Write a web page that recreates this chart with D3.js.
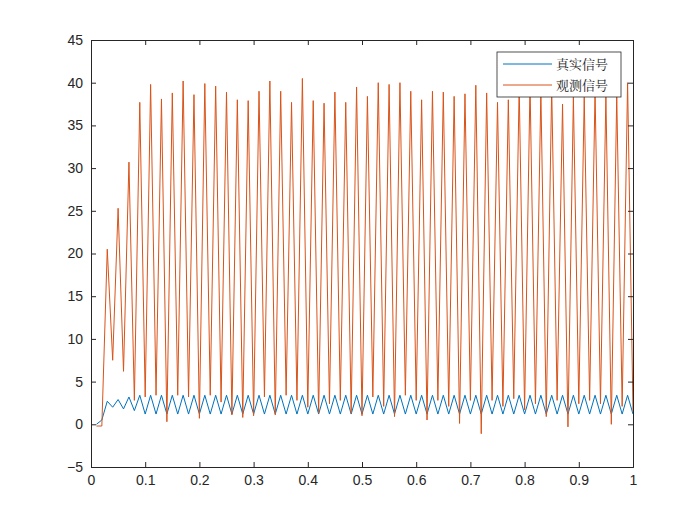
<!DOCTYPE html>
<html><head><meta charset="utf-8">
<script src="https://cdn.jsdelivr.net/npm/d3@7"></script>
<style>body{margin:0;background:#fff}</style></head>
<body><svg id="c" width="700" height="525"></svg>
<script>
const tStart = 0.01, tStep = 0.01;
const observed = [-0.2,-0.2,20.5,7.5,25.3,6.2,30.7,2.8,37.7,3.2,
 39.8,3.4,38.1,0.3,38.8,3.4,40.2,3.2,38.6,0.7,
 39.9,3.4,39.6,2.6,38.9,1.1,38.0,0.8,37.9,1.0,
 39.0,3.2,40.2,1.1,39.0,3.4,37.7,2.8,40.5,2.0,
 37.9,1.3,37.6,2.4,38.9,2.8,37.7,1.3,39.5,1.0,
 38.4,3.2,40.0,2.1,39.8,0.9,40.0,3.4,39.0,2.8,
 38.0,0.5,39.0,2.8,38.9,2.1,38.4,0.1,38.7,2.8,
 39.7,-1.1,38.8,2.8,37.7,2.1,38.0,3.0,39.5,1.7,
 39.8,2.4,39.0,0.9,39.5,2.8,37.5,-0.3,38.3,2.4,
 38.3,2.8,39.0,2.4,38.5,0.0,38.5,2.1,40.0,1.5];
const truth = [0,0.5,2.7,2.0,2.9,1.8,3.2,1.6,3.4,1.2,
 3.4,1.2,3.4,1.2,3.4,1.2,3.4,1.2,3.4,1.2,
 3.4,1.2,3.4,1.2,3.4,1.2,3.4,1.2,3.4,1.2,
 3.4,1.2,3.4,1.2,3.4,1.2,3.4,1.2,3.4,1.2,
 3.4,1.2,3.4,1.2,3.4,1.2,3.4,1.2,3.4,1.2,
 3.4,1.2,3.4,1.2,3.4,1.2,3.4,1.2,3.4,1.2,
 3.4,1.2,3.4,1.2,3.4,1.2,3.4,1.2,3.4,1.2,
 3.4,1.2,3.4,1.2,3.4,1.2,3.4,1.2,3.4,1.2,
 3.4,1.2,3.4,1.2,3.4,1.2,3.4,1.2,3.4,1.2,
 3.4,1.2,3.4,1.2,3.4,1.2,3.4,1.2,3.4,1.2];
const xTicks = [0,0.1,0.2,0.3,0.4,0.5,0.6,0.7,0.8,0.9,1];
const yTicks = [-5,0,5,10,15,20,25,30,35,40,45];
const seriesNames = ["真实信号","观测信号"];
const colors = ["#0072BD","#D95319"];

const L=91,R=633,T=40,B=467;
const svg=d3.select("#c");
const x=d3.scaleLinear().domain([0,1]).range([L,R]);
const y=d3.scaleLinear().domain([-5,45]).range([B,T]);
const font="'Liberation Sans',Arial,sans-serif";
svg.append("rect").attr("x",L).attr("y",T).attr("width",R-L).attr("height",B-T).attr("fill","#fff");
const line=d3.line().x((d,i)=>x(tStart+i*tStep)).y(d=>y(d));
svg.append("path").datum(truth).attr("d",line).attr("fill","none").attr("stroke",colors[0]).attr("stroke-width",1);
svg.append("path").datum(observed).attr("d",line).attr("fill","none").attr("stroke",colors[1]).attr("stroke-width",1);
const ax=g=>g.selectAll("path").attr("stroke","#262626");
const gxB=svg.append("g").attr("transform",`translate(0,${B})`).call(d3.axisBottom(x).tickValues(xTicks).tickSize(-5).tickPadding(8).tickFormat(d3.format("")));
const gxT=svg.append("g").attr("transform",`translate(0,${T})`).call(d3.axisTop(x).tickValues(xTicks).tickSize(-5).tickFormat(""));
const gyL=svg.append("g").attr("transform",`translate(${L},0)`).call(d3.axisLeft(y).tickValues(yTicks).tickSize(-5).tickPadding(8));
const gyR=svg.append("g").attr("transform",`translate(${R},0)`).call(d3.axisRight(y).tickValues(yTicks).tickSize(-5).tickFormat(""));
[gxB,gxT,gyL,gyR].forEach(g=>{g.selectAll("path,line").attr("stroke","#262626");g.selectAll("text").attr("fill","#262626").style("font-family",font).style("font-size","14px");});
// legend
const lg=svg.append("g");
lg.append("rect").attr("x",497).attr("y",52).attr("width",124).attr("height",45).attr("fill","#fff").attr("stroke","#262626").attr("stroke-width",0.8);
seriesNames.forEach((n,i)=>{
  const yy=64+i*21;
  lg.append("line").attr("x1",503).attr("x2",552).attr("y1",yy).attr("y2",yy).attr("stroke",colors[i]);
  lg.append("text").attr("x",556).attr("y",yy+5).text(n).attr("fill","#262626").style("font-family","'Noto Serif CJK SC','Noto Sans CJK SC',serif").style("font-size","13px");
});
</script></body></html>
